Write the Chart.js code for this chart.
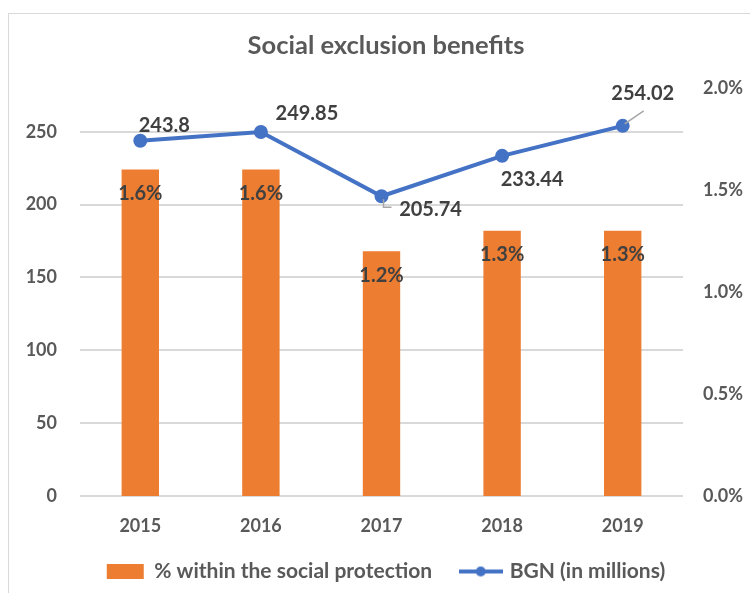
<!DOCTYPE html>
<html lang="en">
<head>
<meta charset="UTF-8">
<title>Social exclusion benefits</title>
<script src="https://cdn.jsdelivr.net/npm/chart.js"></script>
<style>
  html, body { margin: 0; padding: 0; background: #fff; }
  .wrap { position: relative; width: 750px; height: 593px; overflow: hidden; }
  .frame { position: absolute; left: 8px; top: 13px; width: 800px; height: 700px; border: 1px solid #d9d9d9; }
  canvas { position: absolute; left: 0; top: 0; }
</style>
</head>
<body>
<div class="wrap">
  <div class="frame"></div>
  <canvas id="chart" width="750" height="593"></canvas>
</div>
<script>
// chart data
const years = ['2015', '2016', '2017', '2018', '2019'];
const sharePct = [1.6, 1.6, 1.2, 1.3, 1.3];
const bgnMillions = [243.8, 249.85, 205.74, 233.44, 254.02];
const leftTicks = [0, 50, 100, 150, 200, 250];
const rightTicks = [0, 0.5, 1.0, 1.5, 2.0];

// where the line value labels sit, relative to each point
const lineLabelOffsets = [[24, -15], [46, -18], [49, 13], [30, 24], [20, -32]];

const FONT = 'Lato';
const TEXT = '#595959';
const LEGEND_GAP = 30;   // space between legend items
const SHIFT_X = 11;      // frame runs past the right edge, so title/legend sit right of centre

// legend icon for the line series (line with a dot)
const lineIcon = document.createElement('canvas');
lineIcon.width = 44;
lineIcon.height = 14;
const ic = lineIcon.getContext('2d');
ic.strokeStyle = '#4472C4';
ic.lineWidth = 4;
ic.beginPath(); ic.moveTo(0, 7); ic.lineTo(44, 7); ic.stroke();
ic.fillStyle = '#4472C4';
ic.beginPath(); ic.arc(22, 7, 5, 0, Math.PI * 2); ic.fill();

// the legend padding is used both as item gap and vertical space;
// keep the wide gap but give the legend a normal height
const legendFix = {
  id: 'legendFix',
  beforeLayout(chart) {
    const lg = chart.legend;
    if (lg && !lg._fixed) {
      const fit = lg.fit;
      lg.fit = function () {
        fit.apply(this, arguments);
        this.height -= LEGEND_GAP - 10;
      };
      lg._fixed = true;
    }
  },
  afterLayout(chart) {
    const lg = chart.legend;
    lg.top -= LEGEND_GAP - 12;
    lg.left += SHIFT_X;
    lg.right += SHIFT_X;
    const tb = chart.titleBlock;
    tb.left += SHIFT_X;
    tb.right += SHIFT_X;
  }
};

// draws the value labels and the two leader lines
const valueLabels = {
  id: 'valueLabels',
  afterDatasetsDraw(chart) {
    const ctx = chart.ctx;
    ctx.save();
    ctx.font = 'bold 20px ' + FONT;
    ctx.fillStyle = '#404040';
    ctx.textAlign = 'center';
    ctx.textBaseline = 'middle';

    chart.getDatasetMeta(0).data.forEach((bar, i) => {
      ctx.fillText(sharePct[i].toFixed(1) + '%', bar.x, bar.y + 24);
    });

    const pts = chart.getDatasetMeta(1).data;
    ctx.strokeStyle = '#a6a6a6';
    ctx.lineWidth = 1.5;
    ctx.beginPath();
    ctx.moveTo(pts[2].x + 2, pts[2].y + 3);
    ctx.lineTo(pts[2].x + 2, pts[2].y + 11);
    ctx.lineTo(pts[2].x + 10, pts[2].y + 11);
    ctx.moveTo(pts[4].x + 2, pts[4].y - 2);
    ctx.lineTo(pts[4].x + 21, pts[4].y - 15);
    ctx.stroke();

    pts.forEach((p, i) => {
      ctx.fillText(String(bgnMillions[i]), p.x + lineLabelOffsets[i][0], p.y + lineLabelOffsets[i][1]);
    });
    ctx.restore();
  }
};

const tickFont = { family: FONT, size: 18, weight: 'bold' };

new Chart(document.getElementById('chart'), {
  type: 'bar',
  data: {
    labels: years,
    datasets: [{
      type: 'bar',
      label: '% within the social protection',
      data: sharePct,
      yAxisID: 'yRight',
      backgroundColor: '#ED7D31',
      borderWidth: 0,
      categoryPercentage: 1,
      barPercentage: 0.31,
      order: 2
    }, {
      type: 'line',
      label: 'BGN (in millions)',
      data: bgnMillions,
      yAxisID: 'yLeft',
      borderColor: '#4472C4',
      backgroundColor: '#4472C4',
      borderWidth: 4,
      pointRadius: 5,
      pointHoverRadius: 5,
      tension: 0,
      order: 1
    }]
  },
  options: {
    responsive: false,
    animation: false,
    devicePixelRatio: 1,
    layout: { padding: { left: 0, right: 0, top: 0, bottom: 3 } },
    scales: {
      x: {
        grid: { display: false },
        border: { display: false },
        ticks: { color: TEXT, font: tickFont, padding: 11 },
        afterFit(scale) { scale.height = 53; }
      },
      yLeft: {
        position: 'left',
        min: 0,
        max: 280,
        afterBuildTicks(scale) { scale.ticks = leftTicks.map(v => ({ value: v })); },
        grid: { color: '#d9d9d9', lineWidth: 2, drawTicks: false },
        border: { display: false },
        ticks: { color: TEXT, font: tickFont, padding: 23 },
        afterFit(scale) { scale.width = 80; }
      },
      yRight: {
        position: 'right',
        min: 0,
        max: 2.0,
        afterBuildTicks(scale) { scale.ticks = rightTicks.map(v => ({ value: v })); },
        grid: { display: false, drawTicks: false },
        border: { display: false },
        ticks: {
          color: TEXT,
          font: tickFont,
          padding: 20,
          callback: v => v.toFixed(1) + '%'
        },
        afterFit(scale) { scale.width = 67; }
      }
    },
    plugins: {
      title: {
        display: true,
        text: 'Social exclusion benefits',
        color: TEXT,
        font: { family: FONT, size: 25.5, weight: 'bold' },
        padding: { top: 30, bottom: 27.4 }
      },
      legend: {
        position: 'bottom',
        labels: {
          color: TEXT,
          font: { family: FONT, size: 21, weight: 'bold' },
          usePointStyle: true,
          pointStyleWidth: 37,
          boxHeight: 15,
          padding: LEGEND_GAP,
          sort: (a, b) => a.datasetIndex - b.datasetIndex,
          generateLabels(chart) {
            const items = Chart.defaults.plugins.legend.labels.generateLabels(chart);
            items.forEach(it => { it.pointStyle = it.datasetIndex === 1 ? lineIcon : 'rect'; });
            return items;
          }
        }
      },
      tooltip: { enabled: false }
    }
  },
  plugins: [legendFix, valueLabels]
});
</script>
</body>
</html>
